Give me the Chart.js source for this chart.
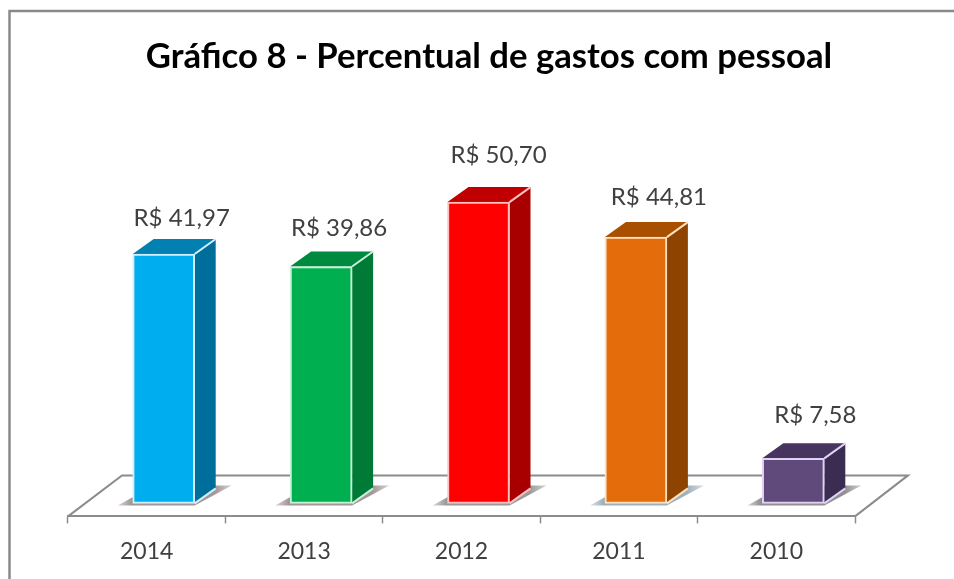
<!DOCTYPE html>
<html lang="pt-BR">
<head>
<meta charset="utf-8">
<title>Gráfico 8</title>
<script src="https://cdn.jsdelivr.net/npm/chart.js@4"></script>
<style>
  html, body { margin: 0; padding: 0; background: #fff; }
  canvas { display: block; }
</style>
</head>
<body>
<canvas id="canvas1" width="954" height="579"></canvas>
<script>
// -- data -------------------------------------------------------------------->
const years = ['2014', '2013', '2012', '2011', '2010']
const gastos = [41.97, 39.86, 50.70, 44.81, 7.58]

const frontColors = ['#00aeef', '#00b050', '#ff0000', '#e46c0a', '#604a7b']
const sideColors = ['#006e9a', '#007a37', '#a80000', '#8e4400', '#3b2c52']
const topColors = ['#0280b2', '#008a40', '#c00000', '#a85000', '#47345f']
const edgeColors = ['#d2f0fc', '#c8f2d8', '#ffc0c0', '#ffe0c0', '#e0d2f2']
const shadowColors = ['#a39696', '#a39696', '#9a9a9a', '#9fb0bd', '#8f8f8f']

// -- fake 3d geometry -------------------------------------------------------->
const shiftX = 17      // bars sit further back on the floor than the ticks
const titleShift = 27.5
const depthX = 21
const depthY = -15
const floorDepthX = 54
const floorDepthY = -41
const labelFont = '24px Lato'
const labelColor = '#404040'
// label placement around each bar, they don't sit at a constant distance
const labelRise = [36, 38, 47, 40, 43]
const labelNudge = [18, 18, 20, 23, 22]

function poly(ctx, pts, fill) {
    ctx.beginPath()
    pts.forEach((p, i) => i ? ctx.lineTo(p[0], p[1]) : ctx.moveTo(p[0], p[1]))
    ctx.closePath()
    ctx.fillStyle = fill
    ctx.fill()
}

const box3d = {
    id: 'box3d',
    afterLayout(chart) {
        // the title is centred on the whole frame, not on the plot
        chart.titleBlock.left += titleShift
        chart.titleBlock.right += titleShift
    },
    beforeDraw(chart) {
        // frame, only top and left show
        const ctx = chart.ctx
        ctx.save()
        ctx.strokeStyle = '#8a8a8a'
        ctx.lineWidth = 2.5
        ctx.beginPath()
        ctx.moveTo(9.5, chart.height)
        ctx.lineTo(9.5, 11)
        ctx.lineTo(chart.width, 11)
        ctx.stroke()
        ctx.restore()
    },
    beforeDatasetsDraw(chart) {
        const ctx = chart.ctx
        const area = chart.chartArea
        const bars = chart.getDatasetMeta(0).data

        ctx.save()
        // floor outline, the front edge is the x axis itself
        ctx.strokeStyle = '#8c8c8c'
        ctx.lineWidth = 2
        ctx.beginPath()
        ctx.moveTo(area.left, area.bottom)
        ctx.lineTo(area.left + floorDepthX, area.bottom + floorDepthY)
        ctx.lineTo(area.right + floorDepthX - 1, area.bottom + floorDepthY)
        ctx.lineTo(area.right, area.bottom)
        ctx.stroke()

        bars.forEach((bar, i) => {
            const left = bar.x + shiftX - bar.width / 2
            const right = bar.x + shiftX + bar.width / 2
            const top = bar.y
            const base = bar.base

            // shadow on the floor
            const g = ctx.createLinearGradient(left - 15, base, right + depthX + 16, base)
            g.addColorStop(0, shadowColors[i] + '60')
            g.addColorStop(0.12, shadowColors[i])
            g.addColorStop(0.85, shadowColors[i])
            g.addColorStop(1, shadowColors[i] + '70')
            poly(ctx, [
                [left - 15, base + 2],
                [right, base + 2],
                [right + depthX + 16, base + depthY - 3],
                [left + depthX, base + depthY - 3]
            ], g)

            // side and top of the box
            poly(ctx, [
                [right, top],
                [right + depthX, top + depthY],
                [right + depthX, base + depthY],
                [right, base]
            ], sideColors[i])
            poly(ctx, [
                [left, top],
                [left + depthX, top + depthY],
                [right + depthX, top + depthY],
                [right, top]
            ], topColors[i])

            // light edges running back from the front face
            ctx.strokeStyle = edgeColors[i]
            ctx.lineWidth = 2
            ctx.beginPath()
            ctx.moveTo(right, top)
            ctx.lineTo(right + depthX, top + depthY)
            ctx.moveTo(right, base)
            ctx.lineTo(right + depthX, base + depthY)
            ctx.stroke()
        })
        ctx.restore()

        // front faces are the real bar elements, only pushed sideways
        ctx.save()
        ctx.translate(shiftX, 0)
    },
    afterDatasetsDraw(chart) {
        const ctx = chart.ctx
        ctx.restore()

        const bars = chart.getDatasetMeta(0).data
        ctx.save()
        ctx.font = labelFont
        ctx.fillStyle = labelColor
        ctx.textAlign = 'center'
        ctx.textBaseline = 'middle'
        bars.forEach((bar, i) => {
            const text = 'R$ ' + gastos[i].toFixed(2).replace('.', ',')
            ctx.fillText(text, bar.x + shiftX + labelNudge[i], bar.y - labelRise[i])
        })
        ctx.restore()
    }
}

// -- graph ------------------------------------------------------------------->
let ctx1 = document.getElementById('canvas1')

new Chart(ctx1, {
    type: 'bar',
    data: {
        labels: years,
        datasets: [{
            data: gastos,
            backgroundColor: frontColors,
            borderColor: edgeColors,
            borderWidth: 2,
            borderSkipped: false,
            barThickness: 62
        }]
    },
    plugins: [box3d],
    options: {
        responsive: false,
        animation: false,
        layout: { padding: { left: 68, right: 99, top: 0, bottom: 0 } },
        plugins: {
            legend: { display: false },
            tooltip: { enabled: false },
            title: {
                display: true,
                text: 'Gráfico 8 - Percentual de gastos com pessoal',
                color: '#000',
                font: { family: 'Lato', size: 34.7, weight: 'bold', lineHeight: 1.2 },
                padding: { top: 36, bottom: 22.4 }
            }
        },
        scales: {
            y: { display: false, min: -2.19, max: 67.88 },
            x: {
                offset: true,
                border: { color: '#8c8c8c', width: 2 },
                grid: {
                    offset: true,
                    drawOnChartArea: false,
                    color: '#8c8c8c',
                    tickLength: 7,
                    tickWidth: 1.5
                },
                ticks: {
                    color: labelColor,
                    font: { family: 'Lato', size: 23 },
                    padding: 14,
                    maxRotation: 0
                }
            }
        }
    }
})
</script>
</body>
</html>
